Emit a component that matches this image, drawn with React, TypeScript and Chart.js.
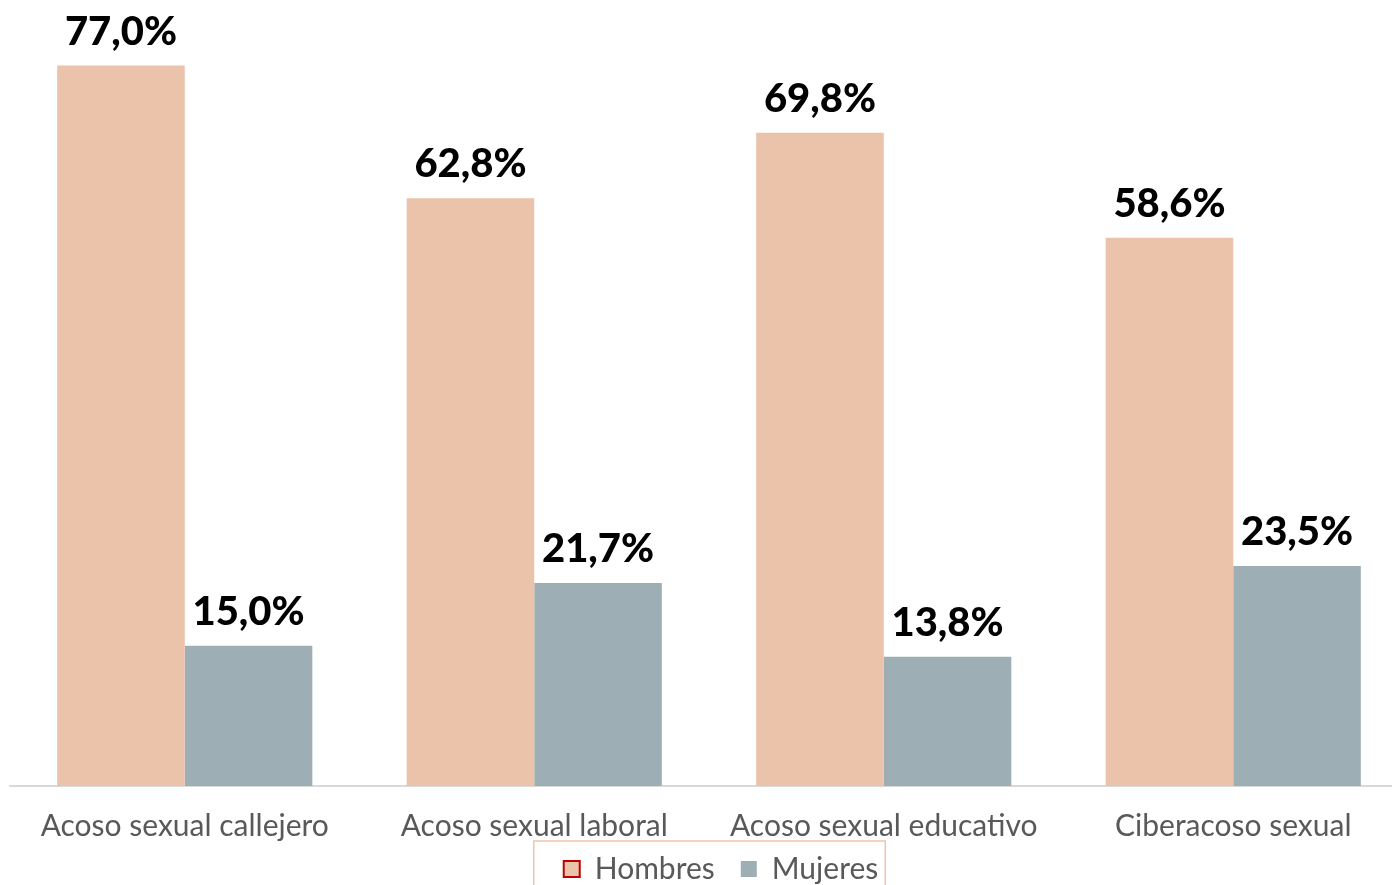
import React, { useEffect, useRef } from "react";
import { Chart, registerables } from "chart.js";

Chart.register(...registerables);

const categories = [
  "Acoso sexual callejero",
  "Acoso sexual laboral",
  "Acoso sexual educativo",
  "Ciberacoso sexual",
];
const hombres = [77.0, 62.8, 69.8, 58.6];
const mujeres = [15.0, 21.7, 13.8, 23.5];
const seriesNames = ["Hombres", "Mujeres"];

const fmt = (v: number) => v.toFixed(1).replace(".", ",") + "%";

const valueLabels = {
  id: "valueLabels",
  afterDatasetsDraw(chart: any) {
    const ctx = chart.ctx;
    ctx.save();
    ctx.font = "900 40px Lato";
    ctx.fillStyle = "#000000";
    ctx.textAlign = "center";
    ctx.textBaseline = "alphabetic";
    chart.data.datasets.forEach((ds: any, di: number) => {
      const meta = chart.getDatasetMeta(di);
      meta.data.forEach((el: any, i: number) => {
        ctx.fillText(fmt(ds.data[i]), el.x, el.y - 21);
      });
    });
    ctx.restore();
  },
};

const legendShift = {
  id: "legendShift",
  afterLayout(chart: any) {
    const lg = chart.legend;
    if (!lg) return;
    lg.top -= 14;
    lg.bottom -= 14;
    lg.left += 12;
    lg.right += 12;
  },
};

const legendBorder = {
  id: "legendBorder",
  afterDraw(chart: any) {
    const lg = chart.legend;
    if (!lg || !lg.legendHitBoxes || !lg.legendHitBoxes.length) return;
    const boxes = lg.legendHitBoxes;
    const left = Math.min(...boxes.map((b: any) => b.left));
    const right = Math.max(...boxes.map((b: any) => b.left + b.width));
    const top = Math.min(...boxes.map((b: any) => b.top));
    const ctx = chart.ctx;
    ctx.save();
    ctx.strokeStyle = "#EFC3AC";
    ctx.lineWidth = 1.5;
    ctx.strokeRect(left - 30, top - 13, right - left + 37, 70);
    ctx.restore();
  },
};

export default function App() {
  const ref = useRef<HTMLCanvasElement>(null);
  useEffect(() => {
    if (!ref.current) return;
    const chart = new Chart(ref.current, {
      type: "bar",
      data: {
        labels: categories,
        datasets: [
          {
            label: seriesNames[0],
            data: hombres,
            backgroundColor: "#EBC2AA",
            borderWidth: 0,
            categoryPercentage: 0.73,
            barPercentage: 1.0,
          },
          {
            label: seriesNames[1],
            data: mujeres,
            backgroundColor: "#9DAFB4",
            borderWidth: 0,
            categoryPercentage: 0.73,
            barPercentage: 1.0,
          },
        ],
      },
      options: {
        animation: false,
        responsive: false,
        maintainAspectRatio: false,
        layout: { padding: { left: 10, right: 12, top: 0, bottom: 0 } },
        scales: {
          x: {
            grid: { display: false, drawTicks: false },
            border: { display: true, color: "#D9D9D9", width: 2 },
            ticks: {
              color: "#595959",
              font: { family: "Lato", size: 30, lineHeight: 1.0 },
              padding: 25,
              maxRotation: 0,
              autoSkip: false,
            },
            afterFit: (scale: any) => {
              scale.height = 56;
            },
          },
          y: {
            display: false,
            min: 0,
            max: 84,
          },
        },
        plugins: {
          legend: {
            position: "bottom",
            labels: {
              color: "#595959",
              font: { family: "Lato", size: 30, lineHeight: 1.0 },
              boxWidth: 16,
              boxHeight: 16,
              padding: 26,
              generateLabels: () => [
                {
                  text: seriesNames[0],
                  fillStyle: "#EBC2AA",
                  strokeStyle: "#C00000",
                  lineWidth: 2,
                  fontColor: "#595959",
                  datasetIndex: 0,
                },
                {
                  text: seriesNames[1],
                  fillStyle: "#9DAFB4",
                  strokeStyle: "#9DAFB4",
                  lineWidth: 0,
                  fontColor: "#595959",
                  datasetIndex: 1,
                },
              ],
            },
          },
          tooltip: { enabled: false },
        },
      },
      plugins: [legendShift, valueLabels, legendBorder],
    });
    return () => chart.destroy();
  }, []);
  return (
    <div
      style={{
        position: "fixed",
        left: 0,
        top: 0,
        width: 1392,
        height: 885,
        overflow: "hidden",
        background: "#ffffff",
      }}
    >
      <canvas ref={ref} width={1420} height={908} style={{ display: "block" }} />
    </div>
  );
}
